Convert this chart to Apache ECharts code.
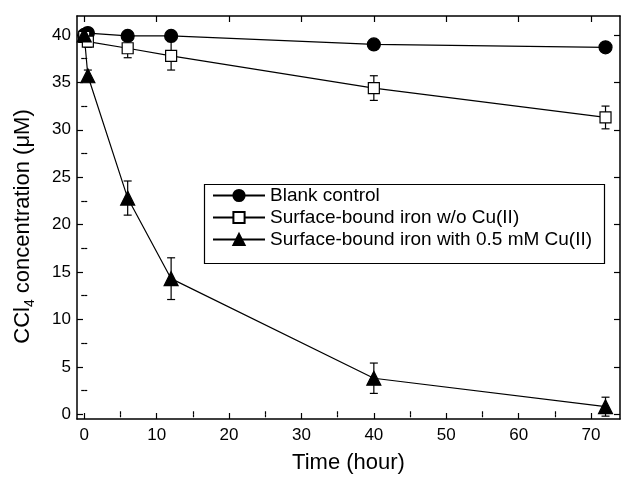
<!DOCTYPE html>
<html>
<head>
<meta charset="utf-8">
<script src="https://cdn.jsdelivr.net/npm/echarts@6/dist/echarts.min.js"></script>
<style>html,body{margin:0;padding:0;background:#fff}#c{width:622px;height:479px}</style>
</head>
<body>
<div id="c"></div>
<script>
// ---- data ----
const times = [0, 0.5, 6, 12, 40, 72];
const blank = [40.0, 40.2, 39.9, 39.9, 39.0, 38.7];
const noCu = [39.8, 39.3, 38.6, 37.8, 34.4, 31.3];
const noCuErr = [0.3, 0.6, 1.0, 1.5, 1.3, 1.2];
const withCu = [40.0, 35.7, 22.8, 14.3, 3.8, 0.8];
const withCuErr = [0.3, 0.6, 1.8, 2.2, 1.6, 1.0];
const seriesNames = ['Blank control', 'Surface-bound iron w/o Cu(II)', 'Surface-bound iron with 0.5 mM Cu(II)'];
const xMajor = [0, 10, 20, 30, 40, 50, 60, 70];
const xMinor = [5, 15, 25, 35, 45, 55, 65];
const yMajor = [0, 5, 10, 15, 20, 25, 30, 35, 40];
const yMinor = [2.5, 7.5, 12.5, 17.5, 22.5, 27.5, 32.5, 37.5];

const FONT = 'Liberation Sans, Arial, sans-serif';
const axisLine = { show: true, onZero: false, lineStyle: { color: '#000', width: 1.5 } };

function mkX(position, ticks, len, labels, showLine) {
  return {
    type: 'value', min: -1, max: 74, position: position,
    axisLine: showLine ? axisLine : { show: false },
    splitLine: { show: false },
    axisTick: { show: true, inside: true, length: len, customValues: ticks, lineStyle: { color: '#000', width: 1.2 } },
    axisLabel: labels ? { show: true, customValues: ticks, margin: 8, fontSize: 17, color: '#000', fontFamily: FONT } : { show: false }
  };
}
function mkY(position, ticks, len, labels, showLine) {
  return {
    type: 'value', min: -0.5, max: 42, position: position,
    axisLine: showLine ? axisLine : { show: false },
    splitLine: { show: false },
    axisTick: { show: true, inside: true, length: len, customValues: ticks, lineStyle: { color: '#000', width: 1.2 } },
    axisLabel: labels ? { show: true, customValues: ticks, margin: 6, fontSize: 17, color: '#000', fontFamily: FONT } : { show: false }
  };
}

const xAxes = [
  mkX('bottom', xMajor, 6, true, true),
  mkX('bottom', xMinor, 3, false, false),
  mkX('top', xMajor, 6, false, true),
  mkX('top', xMinor, 3, false, false)
];
Object.assign(xAxes[0], {
  name: 'Time (hour)', nameLocation: 'middle', nameGap: 33,
  nameTextStyle: { fontSize: 22, color: '#000', fontFamily: FONT }
});
const yAxes = [
  mkY('left', yMajor, 6, true, true),
  mkY('left', yMinor, 3, false, false),
  mkY('right', yMajor, 6, false, true),
  mkY('right', yMinor, 3, false, false)
];
Object.assign(yAxes[0], {
  name: '{a|CCl}{s|4}{a| concentration (μM)}', nameLocation: 'middle', nameGap: 40, nameRotate: 90,
  nameTextStyle: {
    color: '#000', fontFamily: FONT, padding: [0, 18, 0, 0],
    rich: {
      a: { fontSize: 22, color: '#000', fontFamily: FONT, lineHeight: 28 },
      s: { fontSize: 14, color: '#000', fontFamily: FONT, verticalAlign: 'bottom' }
    }
  }
});

function errData(v, e) { return times.map((t, i) => [t, v[i] - e[i], v[i] + e[i]]); }
function errSeries(v, e) {
  return {
    type: 'custom', xAxisIndex: 0, yAxisIndex: 0, z: 1, silent: true,
    data: errData(v, e),
    renderItem: function (params, api) {
      const x = api.value(0), lo = api.value(1), hi = api.value(2);
      const p1 = api.coord([x, lo]), p2 = api.coord([x, hi]);
      const w = 4;
      const st = { stroke: '#000', lineWidth: 1.2 };
      return {
        type: 'group', children: [
          { type: 'line', shape: { x1: p1[0], y1: p1[1], x2: p2[0], y2: p2[1] }, style: st },
          { type: 'line', shape: { x1: p1[0] - w, y1: p1[1], x2: p1[0] + w, y2: p1[1] }, style: st },
          { type: 'line', shape: { x1: p2[0] - w, y1: p2[1], x2: p2[0] + w, y2: p2[1] }, style: st }
        ]
      };
    }
  };
}
function lineSeries(name, v, symbol, size, fill) {
  return {
    name: name, type: 'line', xAxisIndex: 0, yAxisIndex: 0, z: 3,
    data: times.map((t, i) => [t, v[i]]),
    symbol: symbol, symbolSize: size, showAllSymbol: true,
    lineStyle: { color: '#000', width: 1.2 },
    itemStyle: { color: fill, borderColor: '#000', borderWidth: 1.2 },
    emphasis: { disabled: true }, animation: false
  };
}

const chart = echarts.init(document.getElementById('c'), null, { renderer: 'canvas' });
chart.setOption({
  animation: false,
  backgroundColor: '#fff',
  grid: { left: 77, right: 2, top: 16, bottom: 56, containLabel: false },
  xAxis: xAxes,
  yAxis: yAxes,
  graphic: [{
    type: 'rect', left: 202, top: 182, z: 10,
    shape: { width: 400, height: 79 },
    style: { fill: 'none', stroke: '#000', lineWidth: 1.2 }
  }],
  legend: {
    orient: 'vertical', left: 207, top: 181, itemGap: 3, itemWidth: 52, itemHeight: 14,
    data: seriesNames, selectedMode: false,
    textStyle: { fontSize: 19, color: '#000', fontFamily: FONT }
  },
  series: [
    errSeries(noCu, noCuErr),
    errSeries(withCu, withCuErr),
    lineSeries(seriesNames[0], blank, 'circle', 13, '#000'),
    lineSeries(seriesNames[1], noCu, 'rect', 11, '#fff'),
    lineSeries(seriesNames[2], withCu, 'triangle', 14, '#000')
  ]
});
</script>
</body>
</html>
